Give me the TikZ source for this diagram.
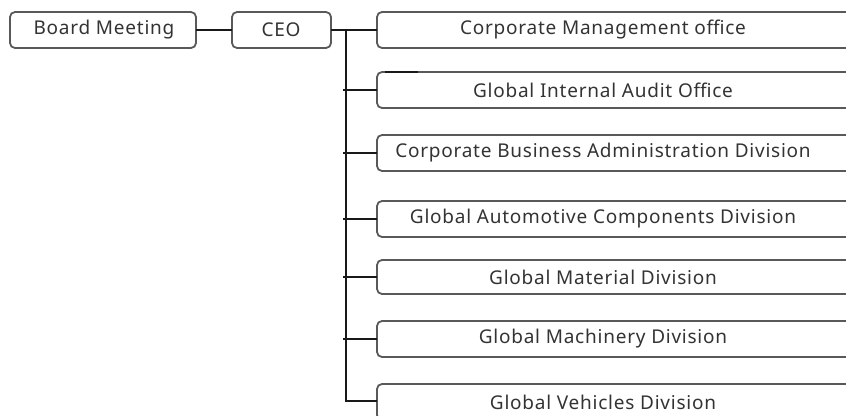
\documentclass[tikz,border=0pt]{standalone}
\usepackage{fontspec}
\setmainfont[LetterSpace=4]{Noto Sans}
\begin{document}
\begin{tikzpicture}[x=1pt,y=-1pt,
  box/.style={draw=black!65,line width=1.8pt,rounded corners=5pt},
  conn/.style={draw=black!90,line width=1.7pt},
  lbl/.style={font=\fontsize{19}{22}\selectfont,text=black!80,inner sep=0pt,anchor=center}]
\useasboundingbox (0,0) rectangle (846,415);
\clip (0,0) rectangle (846,415);
% top row
\draw[box] (10,12) rectangle (196,48);
\node[lbl] (bm) at (104,30) {Board Meeting};
\coordinate (bmR) at (196,30);
\draw[box] (232,12) rectangle (331,48);
\node[lbl] (ceo) at (281,30) {CEO};
\coordinate (ceoL) at (232,30);
\coordinate (ceoR) at (331,30);
\draw[conn] (bmR) -- (ceoL);
% divisions
\foreach \t/\b/\n/\txt in {12/48/d1/Corporate Management office,
  72/108/d2/Global Internal Audit Office,
  135/171/d3/Corporate Business Administration Division,
  201/237/d4/Global Automotive Components Division,
  260/294/d5/Global Material Division,
  321/357/d6/Global Machinery Division,
  384/420/d7/Global Vehicles Division}{
  \draw[box] (377,\t) rectangle (880,\b);
  \coordinate (\n) at (377,{(\t+\b)/2});
  \node[lbl] (\n t) at (603,{(\t+\b)/2}) {\txt};
}
\coordinate (d7) at (377,401);
\coordinate (trTop) at (346,30);
\coordinate (trBot) at (346,401);
\draw[conn] (ceoR) -- (d1);
\draw[conn] (trTop) -- (trBot) -- (d7);
\foreach \n in {d2,d3,d4,d5,d6}{
  \draw[conn] ([xshift=-3pt]\n -| trTop) -- (\n);
}
\coordinate (artA) at (385,72);
\coordinate (artB) at (418,72);
\draw[conn,line width=1.9pt] (artA) -- (artB);
\end{tikzpicture}
\end{document}
